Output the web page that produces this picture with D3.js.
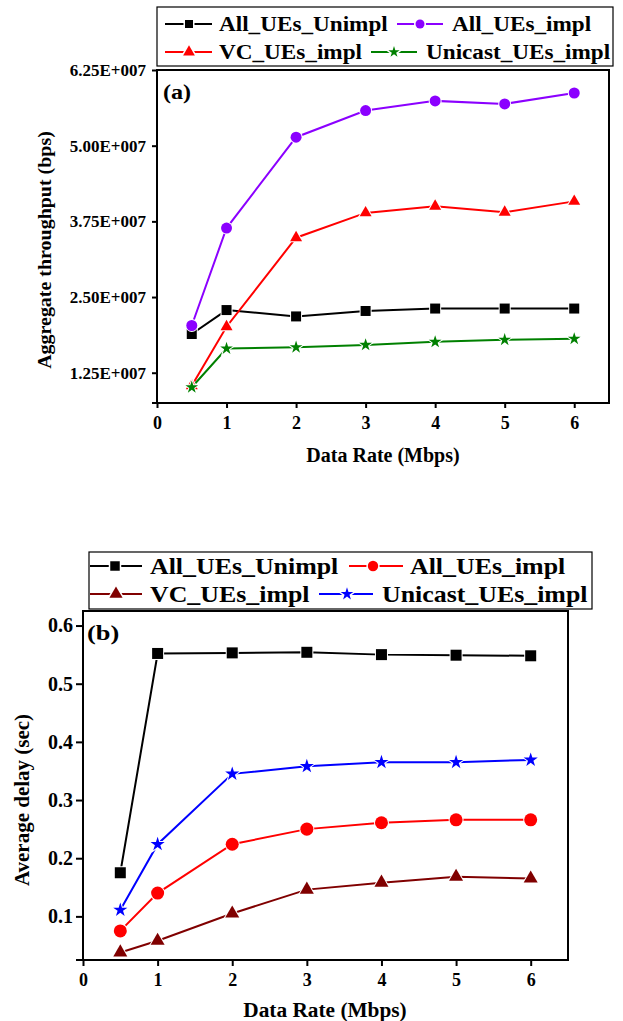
<!DOCTYPE html>
<html><head><meta charset="utf-8">
<script src="https://cdn.jsdelivr.net/npm/d3@7"></script>
<style>
html,body{margin:0;padding:0;background:#fff;}
svg{display:block;}
text{font-family:"Liberation Serif","Times New Roman",serif;font-weight:bold;fill:#000;}
</style></head>
<body>
<svg id="chart" width="623" height="1021"></svg>
<script>
// ---------- data ----------
const dataRates = [0.5, 1, 2, 3, 4, 5, 6];
const xTicks = [0, 1, 2, 3, 4, 5, 6];

const seriesNames = ["All_UEs_Unimpl", "All_UEs_impl", "VC_UEs_impl", "Unicast_UEs_impl"];

// (a) aggregate throughput (bps)
const thrAllUnimpl   = [1.89e7, 2.285e7, 2.18e7, 2.27e7, 2.31e7, 2.31e7, 2.31e7];
const thrAllImpl     = [2.03e7, 3.64e7, 5.14e7, 5.58e7, 5.74e7, 5.69e7, 5.87e7];
const thrVCImpl      = [1.035e7, 2.01e7, 3.48e7, 3.89e7, 4.0e7, 3.9e7, 4.08e7];
const thrUnicastImpl = [1.01e7, 1.65e7, 1.67e7, 1.71e7, 1.76e7, 1.795e7, 1.81e7];
const thrTicks = [1.25e7, 2.5e7, 3.75e7, 5.0e7, 6.25e7];
const thrTickLabels = ["1.25E+007", "2.50E+007", "3.75E+007", "5.00E+007", "6.25E+007"];

// (b) average delay (sec)
const delayAllUnimpl   = [0.175, 0.552, 0.553, 0.554, 0.550, 0.549, 0.548];
const delayAllImpl     = [0.075, 0.140, 0.224, 0.250, 0.261, 0.266, 0.266];
const delayVCImpl      = [0.038, 0.058, 0.105, 0.146, 0.158, 0.168, 0.165];
const delayUnicastImpl = [0.111, 0.224, 0.345, 0.358, 0.365, 0.365, 0.369];
const delayTicks = [0.1, 0.2, 0.3, 0.4, 0.5, 0.6];

const colorsA = ["#000000", "#8B00FF", "#FF0000", "#008000"];
const colorsB = ["#000000", "#FF0000", "#800000", "#0000FF"];
const symbolsAll = [d3.symbolSquare, d3.symbolCircle, d3.symbolTriangle, d3.symbolStar];

// ---------- helpers ----------
const svg = d3.select("#chart");

function txt(g, x, y, s, size, opt = {}) {
  const sx = opt.sx || 1;
  const rot = opt.rot || 0;
  return g.append("text")
    .attr("transform", `translate(${x},${y}) rotate(${rot}) scale(${sx},1)`)
    .attr("text-anchor", opt.anchor || "start")
    .style("font-size", size + "px")
    .text(s);
}

function panel(cfg) {
  const { left, top, right, bottom, xDomain, yDomain, series, colors, sizes } = cfg;
  const x = d3.scaleLinear().domain(xDomain).range([left, right]);
  const y = d3.scaleLinear().domain(yDomain).range([bottom, top]);
  const g = svg.append("g");

  // frame
  g.append("rect").attr("x", left).attr("y", top)
    .attr("width", right - left).attr("height", bottom - top)
    .attr("fill", "none").attr("stroke", "#000").attr("stroke-width", 2);

  // x axis
  const xa = g.append("g").attr("transform", `translate(0,${bottom})`)
    .call(d3.axisBottom(x).tickValues(xTicks).tickFormat(d3.format("d"))
      .tickSize(cfg.xTickSize).tickPadding(cfg.xTickPad));
  xa.select(".domain").attr("stroke-width", 2);
  xa.selectAll(".tick line").attr("stroke-width", 2);
  xa.selectAll(".tick text").style("font-size", cfg.xTickFont + "px")
    .attr("font-family", null);

  // y axis
  const ya = g.append("g").attr("transform", `translate(${left},0)`)
    .call(d3.axisLeft(y).tickValues(cfg.yTicks).tickFormat((d, i) => cfg.yTickLabels[i])
      .tickSize(cfg.yTickSize).tickPadding(cfg.yTickPad));
  ya.select(".domain").attr("stroke-width", 2);
  ya.selectAll(".tick line").attr("stroke-width", 2);
  ya.selectAll(".tick text").style("font-size", cfg.yTickFont + "px")
    .attr("font-family", null);
  ya.selectAll("path.domain").attr("d", `M${-cfg.yTickSize},${y(yDomain[0])}H0V${y(yDomain[1])}`);
  xa.select(".domain").attr("d", `M${x(xDomain[0])},0H${x(xDomain[1])}`);

  // series
  const line = d3.line().x((d, i) => x(dataRates[i])).y(d => y(d));
  series.forEach((vals, k) => {
    g.append("path").datum(vals).attr("d", line)
      .attr("fill", "none").attr("stroke", colors[k]).attr("stroke-width", 2);
  });
  cfg.drawOrder.forEach(k => {
    const vals = series[k];
    g.selectAll(null).data(vals).enter().append("path")
      .attr("transform", (d, i) => `translate(${x(dataRates[i])},${y(d)})`)
      .attr("d", d3.symbol().type(symbolsAll[k]).size(sizes[k]))
      .attr("fill", colors[k]).attr("stroke", "#fff").attr("stroke-width", 2)
      .attr("paint-order", "stroke");
  });
  return { x, y, g };
}

// ---------- panel (a) ----------
const pa = panel({
  left: 157, top: 70, right: 609, bottom: 403,
  xDomain: [0, 6.5], yDomain: [7.5e6, 6.25e7],
  series: [thrAllUnimpl, thrAllImpl, thrVCImpl, thrUnicastImpl],
  colors: colorsA, sizes: [100, 95, 62, 50],
  drawOrder: [0, 2, 3, 1],
  yTicks: thrTicks, yTickLabels: thrTickLabels,
  xTickSize: 5, xTickPad: 8, xTickFont: 18,
  yTickSize: 5, yTickPad: 6, yTickFont: 17
});
txt(svg, 163, 99, "(a)", 21, { sx: 1.15 });
txt(svg, 383, 462, "Data Rate (Mbps)", 20, { anchor: "middle" });
txt(svg, 51, 250, "Aggregate throughput (bps)", 18, { anchor: "middle", rot: -90, sx: 1.11 });

// ---------- panel (b) ----------
const pb = panel({
  left: 83, top: 611, right: 568, bottom: 960,
  xDomain: [0, 6.5], yDomain: [0.025, 0.625],
  series: [delayAllUnimpl, delayAllImpl, delayVCImpl, delayUnicastImpl],
  colors: colorsB, sizes: [121, 133, 85, 62],
  drawOrder: [0, 1, 2, 3],
  yTicks: delayTicks, yTickLabels: delayTicks.map(d3.format(".1f")),
  xTickSize: 6, xTickPad: 7, xTickFont: 18,
  yTickSize: 7, yTickPad: 3, yTickFont: 20
});
txt(svg, 87, 640, "(b)", 22, { sx: 1.2 });
txt(svg, 325, 1017, "Data Rate (Mbps)", 20.5, { anchor: "middle", sx: 1.04 });
txt(svg, 29, 800, "Average delay (sec)", 21, { anchor: "middle", rot: -90 });

// ---------- legends ----------
function legend(cfg) {
  const g = svg.append("g");
  g.append("rect").attr("x", cfg.box[0]).attr("y", cfg.box[1])
    .attr("width", cfg.box[2] - cfg.box[0]).attr("height", cfg.box[3] - cfg.box[1])
    .attr("fill", "#fff").attr("stroke", "#000").attr("stroke-width", 1.2);
  cfg.items.forEach((it, k) => {
    const c = cfg.colors[k];
    g.append("line").attr("x1", it.l1).attr("x2", it.l2).attr("y1", it.my).attr("y2", it.my)
      .attr("stroke", c).attr("stroke-width", 2);
    g.append("path").attr("transform", `translate(${it.mx},${it.my})`)
      .attr("d", d3.symbol().type(symbolsAll[k]).size(cfg.sizes[k]))
      .attr("fill", c).attr("stroke", "#fff").attr("stroke-width", 3).attr("paint-order", "stroke");
    txt(g, it.tx, it.ty, seriesNames[k], cfg.font, { sx: cfg.sx });
  });
}
legend({
  box: [157, 7, 613, 66], colors: colorsA, sizes: [64, 64, 60, 40], font: 20, sx: 1.16,
  items: [
    { l1: 165, l2: 212, mx: 189, my: 24, tx: 219, ty: 31 },
    { l1: 397, l2: 443, mx: 420, my: 24, tx: 452, ty: 31 },
    { l1: 165, l2: 212, mx: 189, my: 52, tx: 219, ty: 59 },
    { l1: 371, l2: 417, mx: 394, my: 52, tx: 426, ty: 59 }
  ]
});
legend({
  box: [89, 552, 592, 609], colors: colorsB, sizes: [90, 85, 75, 50], font: 22.5, sx: 1.15,
  items: [
    { l1: 90, l2: 142, mx: 115, my: 566, tx: 150, ty: 574 },
    { l1: 349, l2: 403, mx: 373, my: 566, tx: 410, ty: 574 },
    { l1: 90, l2: 142, mx: 116, my: 594, tx: 150, ty: 602 },
    { l1: 319, l2: 373, mx: 347, my: 594, tx: 382, ty: 602 }
  ]
});
</script>
</body></html>
